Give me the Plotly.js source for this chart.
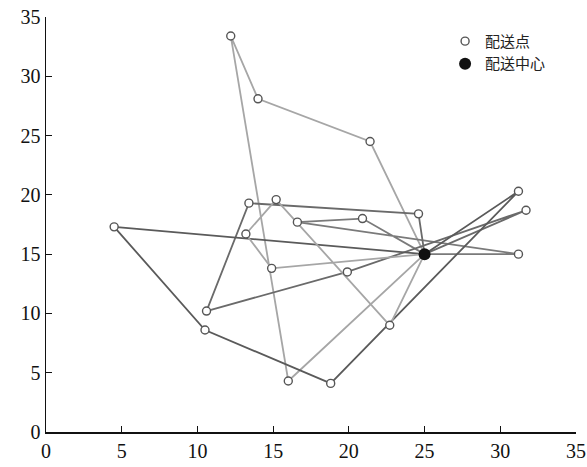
<!DOCTYPE html>
<html>
<head>
<meta charset="utf-8">
<script src="https://cdn.plot.ly/plotly-3.0.1.min.js"></script>
<style>
  html, body { margin: 0; padding: 0; background: #fff; }
  #chart { width: 587px; height: 467px; }
</style>
</head>
<body>
<div id="chart"></div>
<script>
// Delivery centre (depot)
const depotX = [25];
const depotY = [15];

// Delivery points, numbered 1..20
const custX = [12.2, 14.0, 21.4, 4.5, 13.4, 15.2, 13.2, 16.6, 20.9, 24.6,
               31.2, 31.7, 31.2, 14.9, 19.9, 10.6, 10.5, 22.7, 16.0, 18.8];
const custY = [33.4, 28.1, 24.5, 17.3, 19.3, 19.6, 16.7, 17.7, 18.0, 18.4,
               20.3, 18.7, 15.0, 13.8, 13.5, 10.2, 8.6, 9.0, 4.3, 4.1];

// Vehicle routes: visiting order of delivery points (1-based), each starting and ending at the depot
const route1 = [3, 2, 1, 19];
const route2 = [9, 8, 13];
const route3 = [10, 5, 16, 15, 12];
const route4 = [4, 17, 20, 11];
const route5 = [14, 7, 6, 18];

const routes = [route1, route2, route3, route4, route5];
const routeColors = ['#a6a6a6', '#7a7a7a', '#6a6a6a', '#5a5a5a', '#a6a6a6'];

const legendPoint = '配送点';
const legendDepot = '配送中心';

const traces = [];

routes.forEach((r, i) => {
  const xs = [depotX[0]].concat(r.map(k => custX[k - 1]), [depotX[0]]);
  const ys = [depotY[0]].concat(r.map(k => custY[k - 1]), [depotY[0]]);
  traces.push({
    type: 'scatter', mode: 'lines', x: xs, y: ys,
    line: { color: routeColors[i], width: 1.8 },
    showlegend: false, hoverinfo: 'skip'
  });
});

traces.push({
  type: 'scatter', mode: 'markers', name: legendPoint,
  x: custX, y: custY,
  marker: { symbol: 'circle', size: 8, color: '#ffffff', line: { color: '#555555', width: 1.4 } }
});

traces.push({
  type: 'scatter', mode: 'markers', name: legendDepot,
  x: depotX, y: depotY,
  marker: { symbol: 'circle', size: 12, color: '#111111', line: { width: 0 } }
});

const axisCommon = {
  range: [0, 35], dtick: 5, tick0: 0,
  showline: true, linecolor: '#111', linewidth: 1.5,
  ticks: 'inside', ticklen: 6, tickwidth: 1.2, tickcolor: '#111',
  showgrid: false, zeroline: false,
  tickfont: { family: '"Liberation Serif", "Times New Roman", serif', size: 20, color: '#111' }
};

const layout = {
  width: 587, height: 467,
  margin: { l: 46, r: 11, t: 17, b: 35 },
  paper_bgcolor: '#fff', plot_bgcolor: '#fff',
  xaxis: Object.assign({}, axisCommon),
  yaxis: Object.assign({}, axisCommon),
  showlegend: true,
  legend: {
    x: 0.753, y: 0.981, xanchor: 'left', yanchor: 'top',
    bgcolor: 'rgba(0,0,0,0)', borderwidth: 0,
    itemwidth: 30, tracegroupgap: 0,
    font: { family: '"Noto Sans CJK SC", sans-serif', size: 15, color: '#222' }
  }
};

Plotly.newPlot('chart', traces, layout, { staticPlot: true, displayModeBar: false });
</script>
</body>
</html>
